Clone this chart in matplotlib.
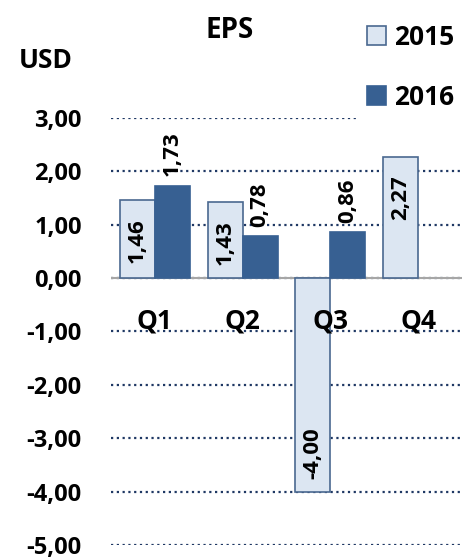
import numpy as np
import matplotlib.pyplot as plt
from matplotlib.patches import Patch

quarters = ['Q1', 'Q2', 'Q3', 'Q4']
eps_2015 = [1.46, 1.43, -4.00, 2.27]
eps_2016 = [1.73, 0.78, 0.86, np.nan]
yticks = [3, 2, 1, 0, -1, -2, -3, -4, -5]

c15 = '#dce6f2'
c15_edge = '#4a6890'
c16 = '#376092'
grid_c = '#1f3864'

plt.rcParams['font.family'] = ['Open Sans', 'DejaVu Sans']
plt.rcParams['font.weight'] = 'bold'

fig = plt.figure(figsize=(4.62, 5.59), dpi=100)
ax = fig.add_axes([111 / 462, 14 / 559, 351 / 462, 427 / 559])

x = np.arange(len(quarters))
w = 0.4
b15 = ax.bar(x - w / 2, eps_2015, w, color=c15, edgecolor=c15_edge, linewidth=1.2, zorder=3)
b16 = ax.bar(x + w / 2, eps_2016, w, color=c16, edgecolor=c16, linewidth=1.2, zorder=3)

fmt = lambda v: f'{v:.2f}'.replace('.', ',')

# 2015: label inside end
for xi, v in zip(x - w / 2, eps_2015):
    off = -13 if v > 0 else 9
    ax.annotate(fmt(v), (xi, v), xytext=(0, off), textcoords='offset points',
                rotation=90, ha='center', va='top' if v > 0 else 'bottom',
                fontsize=16, fontweight='bold', zorder=4)
# 2016: label outside end
for xi, v in zip(x + w / 2, eps_2016):
    if np.isnan(v):
        continue
    ax.annotate(fmt(v), (xi, v), xytext=(0, 7), textcoords='offset points',
                rotation=90, ha='center', va='bottom',
                fontsize=16, fontweight='bold', zorder=4)

for xi, q in zip(x, quarters):
    ax.text(xi, -0.8, q, ha='center', va='center', fontsize=19, fontweight='bold')

ax.axhline(0, color='#a6a6a6', lw=1.5, zorder=2)
ax.set_xlim(-0.5, 3.5)
ax.set_ylim(-5, 3)
ax.set_yticks(yticks)
ax.set_yticklabels([fmt(t) for t in yticks], fontsize=17, fontweight='bold')
ax.set_xticks([])
ax.tick_params(axis='y', length=0, pad=21)
ax.yaxis.grid(True, color=grid_c, linestyle=(0, (1, 1.6)), linewidth=1.6, zorder=1)
ax.set_axisbelow(True)
for s in ax.spines.values():
    s.set_visible(False)

fig.text(230 / 462, 1 - 31 / 559, 'EPS', ha='center', va='center', fontsize=20, fontweight='bold')
fig.text(46 / 462, 1 - 61 / 559, 'USD', ha='center', va='center', fontsize=19, fontweight='bold')

handles = [Patch(facecolor=c15, edgecolor=c15_edge, linewidth=1.2),
           Patch(facecolor=c16, edgecolor=c16, linewidth=1.2)]
leg = ax.legend(handles, ['2015', '2016'], loc='upper left',
                bbox_to_anchor=(356 / 462, 1 - 13 / 559), bbox_transform=fig.transFigure,
                frameon=True, facecolor='white', edgecolor='none', framealpha=1,
                fontsize=19, handlelength=0.75, handleheight=0.75, handletextpad=0.3,
                labelspacing=1.25, borderpad=0.4, borderaxespad=0)
leg.set_zorder(5)
for t in leg.get_texts():
    t.set_fontweight('bold')

fig.savefig('out.png', dpi=100)
